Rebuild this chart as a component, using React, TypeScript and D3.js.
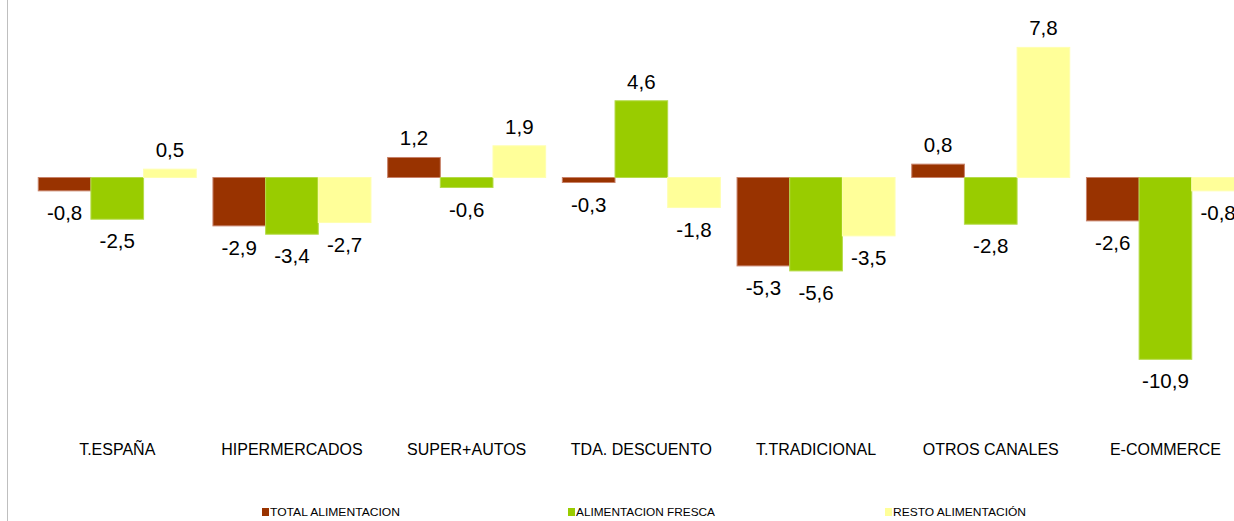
import React from "react";
import * as d3 from "d3";

const categories = ["T.ESPAÑA", "HIPERMERCADOS", "SUPER+AUTOS", "TDA. DESCUENTO", "T.TRADICIONAL", "OTROS CANALES", "E-COMMERCE"];
const seriesNames = ["TOTAL ALIMENTACION", "ALIMENTACION FRESCA", "RESTO ALIMENTACIÓN"];
const totalAlimentacion = [-0.8, -2.9, 1.2, -0.3, -5.3, 0.8, -2.6];
const alimentacionFresca = [-2.5, -3.4, -0.6, 4.6, -5.6, -2.8, -10.9];
const restoAlimentacion = [0.5, -2.7, 1.9, -1.8, -3.5, 7.8, -0.8];
const colors = ["#993300", "#99CC00", "#FFFF99"];
const strokes = ["#C8826A", "#B5DB4A", "#FFFFB0"];

const W = 1234;
const H = 521;

export default function App() {
  const seriesValues = [totalAlimentacion, alimentacionFresca, restoAlimentacion];
  const x0 = d3
    .scaleBand<string>()
    .domain(categories)
    .range([29.9, 29.9 + 7 * 174.7])
    .paddingInner(0.0956)
    .paddingOuter(0.0478);
  const x1 = d3
    .scaleBand<string>()
    .domain(seriesNames)
    .range([0, x0.bandwidth()])
    .padding(0);
  const zeroY = 177.5;
  const unit = 16.68;
  const y = d3
    .scaleLinear()
    .domain([-12, 10])
    .range([zeroY + 12 * unit, zeroY - 10 * unit]);

  const font = "'Liberation Sans', Arial, sans-serif";
  const legendX = [262, 568, 885];

  return (
    <svg
      width={W}
      height={H}
      style={{ position: "absolute", left: 0, top: 0, background: "#fff" }}
      fontFamily={font}
    >
      <rect x={0} y={0} width={W} height={H} fill="#fff" />
      <line x1={7.5} x2={7.5} y1={0} y2={H} stroke="#BFBFBF" strokeWidth={1} />
      {categories.map((c, ci) => (
        <g key={c} transform={`translate(${x0(c)},0)`}>
          {seriesNames.map((s, si) => {
            const v = seriesValues[si][ci];
            const bx = x1(s)!;
            const bw = x1.bandwidth();
            const top = y(Math.max(0, v));
            const bot = y(Math.min(0, v));
            return (
              <g key={s}>
                <rect
                  x={bx}
                  y={top}
                  width={bw}
                  height={bot - top}
                  fill={colors[si]}
                  stroke={strokes[si]}
                  strokeWidth={1}
                />
                <text
                  x={bx + bw / 2}
                  y={v >= 0 ? top - 12 : bot + 29}
                  textAnchor="middle"
                  fontSize={20.5}
                  fill="#000"
                >
                  {d3.format(".1f")(v).replace(".", ",").replace("−", "-")}
                </text>
              </g>
            );
          })}
          <text
            x={x0.bandwidth() / 2}
            y={454.5}
            textAnchor="middle"
            fontSize={16}
            fill="#000"
          >
            {c}
          </text>
        </g>
      ))}
      {seriesNames.map((s, si) => (
        <g key={s}>
          <rect x={legendX[si]} y={508} width={7} height={8} fill={colors[si]} />
          <text
            x={legendX[si] + 8}
            y={516}
            fontSize={11}
            fill="#000"
            textLength={si === 0 ? 130 : si === 1 ? 139 : 133}
            lengthAdjust="spacingAndGlyphs"
          >
            {s}
          </text>
        </g>
      ))}
    </svg>
  );
}
